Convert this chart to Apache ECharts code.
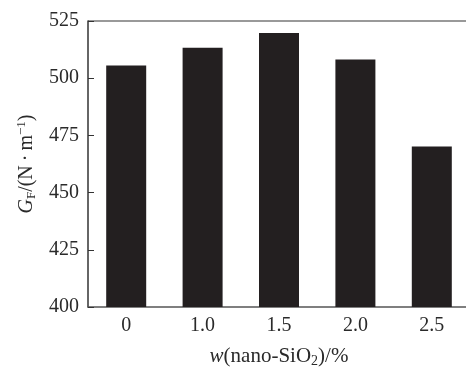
<!DOCTYPE html>
<html>
<head>
<meta charset="utf-8">
<script src="https://cdn.jsdelivr.net/npm/echarts@6/dist/echarts.min.js"></script>
<style>
  html, body { margin: 0; padding: 0; background: #fff; }
  #chart { width: 466px; height: 368px; }
</style>
</head>
<body>
<div id="chart"></div>
<script>
// Fracture energy at each nano-SiO2 content
const categories = ['0', '1.0', '1.5', '2.0', '2.5'];
const fractureEnergy = [505.5, 513.3, 519.8, 508.2, 470.2];
const yTicks = { min: 400, max: 525, interval: 25 };

const serif = '"Liberation Serif", "Times New Roman", serif';
const ink = '#231f20';
const textInk = '#2a2a2a';

const chart = echarts.init(document.getElementById('chart'));
chart.setOption({
  animation: false,
  backgroundColor: '#fff',
  textStyle: { fontFamily: serif },
  grid: { left: 88, top: 21, bottom: 61, right: -4, containLabel: false, outerBoundsMode: 'none' },
  xAxis: {
    type: 'category',
    data: categories,
    boundaryGap: true,
    axisLine: { lineStyle: { color: '#555', width: 1.5 } },
    axisTick: { show: false },
    axisLabel: { fontFamily: serif, fontSize: 20, color: textInk, margin: 9 },
    name: '{i|w}{n|(nano-SiO}{s|2}{n|)/%}',
    nameLocation: 'middle',
    nameGap: 38,
    nameTextStyle: {
      rich: {
        i: { fontFamily: serif, fontSize: 21, fontStyle: 'italic', color: textInk },
        n: { fontFamily: serif, fontSize: 21, color: textInk },
        s: { fontFamily: serif, fontSize: 14, color: textInk, padding: [9, 0, 0, 0] }
      }
    }
  },
  yAxis: {
    type: 'value',
    min: yTicks.min,
    max: yTicks.max,
    interval: yTicks.interval,
    axisLine: { show: true, lineStyle: { color: '#333', width: 1.5 } },
    axisTick: { show: true, inside: true, length: 6, lineStyle: { color: '#333' } },
    splitLine: { show: false },
    axisLabel: { fontFamily: serif, fontSize: 20, color: textInk, margin: 9 },
    name: '{i|G}{s|F}{n|/(N\u2009\u00b7\u2009m}{p|\u22121}{n|)}',
    nameLocation: 'middle',
    nameRotate: 90,
    nameGap: 48,
    nameTextStyle: {
      rich: {
        i: { fontFamily: serif, fontSize: 20, fontStyle: 'italic', color: textInk },
        n: { fontFamily: serif, fontSize: 20, color: textInk },
        s: { fontFamily: serif, fontSize: 13, color: textInk, padding: [10, 0, 0, 0] },
        p: { fontFamily: serif, fontSize: 13, color: textInk, padding: [0, 0, 10, 0] }
      }
    }
  },
  series: [{
    type: 'bar',
    data: fractureEnergy,
    barWidth: 40,
    itemStyle: { color: ink },
    silent: true
  }]
});

// top frame line of the plot area
const topY = chart.convertToPixel({ yAxisIndex: 0 }, yTicks.max);
chart.setOption({
  graphic: [{
    type: 'line',
    shape: { x1: 88, y1: topY, x2: 466, y2: topY },
    style: { stroke: '#777', lineWidth: 1.5 },
    silent: true
  }]
});
</script>
</body>
</html>
